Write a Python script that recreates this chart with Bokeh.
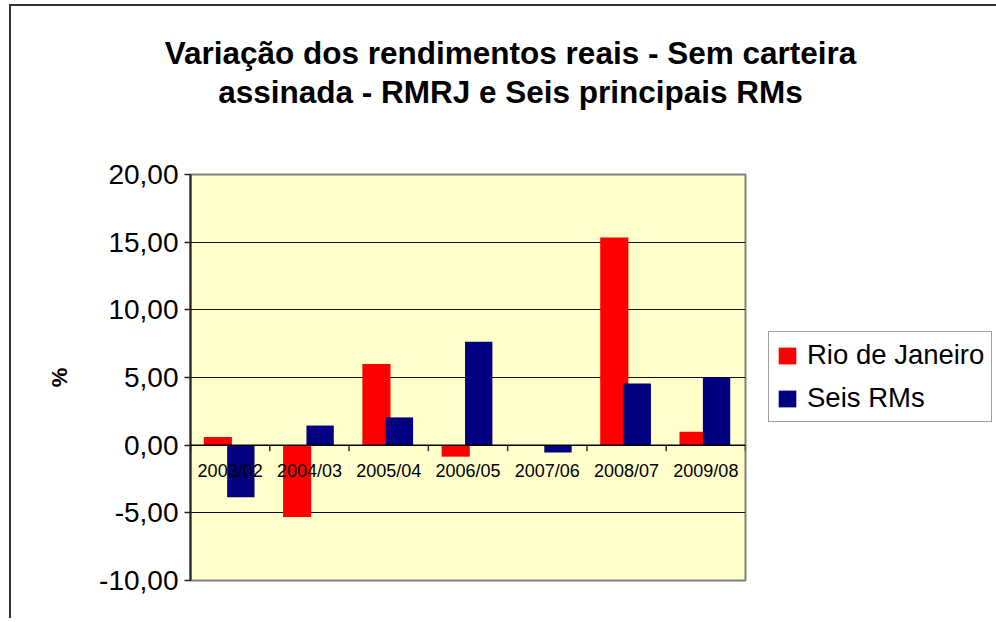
from bokeh.plotting import figure
from bokeh.models import (Range1d, FactorRange, FixedTicker, Span, Label, Legend,
                          LegendItem, ColumnDataSource)
from bokeh.transform import dodge
from bokeh.core.properties import value
from bokeh.embed import file_html
from bokeh.resources import INLINE

# ---------------- data ----------------
categories = ["2003/02", "2004/03", "2005/04", "2006/05", "2007/06", "2008/07", "2009/08"]
rio_de_janeiro = [0.6, -5.3, 6.0, -0.85, 0.0, 15.35, 1.0]
seis_rms = [-3.85, 1.45, 2.05, 7.65, -0.55, 4.55, 5.0]
y_ticks = [-10, -5, 0, 5, 10, 15, 20]
series_names = ["Rio de Janeiro", "Seis RMs"]
title_lines = ["Variação dos rendimentos reais - Sem carteira",
               "assinada - RMRJ e Seis principais RMs"]
y_label = "%"

FONT = "Liberation Sans"
Y0, Y1 = -10, 20
FRAME_W, FRAME_H = 555, 406
px_per_unit = FRAME_H / (Y1 - Y0)
px_per_cat = FRAME_W / len(categories)

p = figure(x_range=FactorRange(*categories, range_padding=0),
           y_range=Range1d(Y0, Y1),
           frame_width=FRAME_W, frame_height=FRAME_H,
           min_border_left=179, min_border_right=251,
           min_border_top=168, min_border_bottom=38,
           output_backend="svg", toolbar_location=None,
           background_fill_color="#FFFFCC", border_fill_color="white",
           outline_line_color="#808080", outline_line_width=2)

src = ColumnDataSource(dict(cat=categories, rio=rio_de_janeiro, seis=seis_rms))

# grid
p.xgrid.visible = False
p.ygrid.ticker = FixedTicker(ticks=y_ticks)
p.ygrid.grid_line_color = "#111111"
p.ygrid.grid_line_width = 1

r1 = p.vbar(x=dodge("cat", -0.155, range=p.x_range), top="rio", bottom=0, width=0.355,
            source=src, fill_color="#FF0000", line_color=None)
r2 = p.vbar(x=dodge("cat", 0.135, range=p.x_range), top="seis", bottom=0, width=0.345,
            source=src, fill_color="#000080", line_color=None)

# zero axis line
p.add_layout(Span(location=0, dimension="width", line_color="black", line_width=1.5))

# category boundary ticks on zero line
tick_len = 6 / px_per_unit
bounds = list(range(len(categories) + 1))
p.segment(x0=bounds, x1=bounds, y0=[0] * len(bounds), y1=[-tick_len] * len(bounds),
          line_color="#333333", line_width=1.5)

# category labels under the zero line
p.text(x=categories, y=[0] * len(categories), text=categories,
       text_font=value(FONT), text_font_size="18px", text_color="black",
       text_align="center", text_baseline="top", y_offset=16)

# axes
p.xaxis.visible = False
yax = p.yaxis[0]
yax.ticker = FixedTicker(ticks=y_ticks)
yax.major_label_overrides = {t: f"{t:.2f}".replace(".", ",") for t in y_ticks}
yax.major_label_text_font = FONT
yax.major_label_text_font_size = "28px"
yax.major_label_text_color = "black"
yax.major_label_standoff = 6
yax.major_tick_out = 6
yax.major_tick_in = 0
yax.minor_tick_line_color = None
yax.axis_line_color = "#222222"
yax.axis_line_width = 2
yax.major_tick_line_color = "#222222"
yax.major_tick_line_width = 1.5
yax.axis_label = y_label
yax.axis_label_text_font = FONT
yax.axis_label_text_font_style = "bold"
yax.axis_label_text_font_size = "22px"
yax.axis_label_text_color = "black"
yax.axis_label_standoff = 24

# title: two centred lines placed in the top border area
title_cx = (510 - 190) / px_per_cat
title_baselines = [20 + (174 - 52) / px_per_unit, 20 + (174 - 91) / px_per_unit]
for line, ty in zip(title_lines, title_baselines):
    p.add_layout(Label(x=title_cx, y=ty, text=line, text_font=FONT,
                       text_font_size="31.5px", text_font_style="bold",
                       text_color="black", text_align="center",
                       text_baseline="alphabetic"), "above")

# legend in right panel
legend = Legend(items=[LegendItem(label=series_names[0], renderers=[r1]),
                       LegendItem(label=series_names[1], renderers=[r2])],
                location=(23, 158), label_text_font=FONT, label_text_font_size="27.5px",
                label_text_color="black", glyph_width=22, glyph_height=21,
                label_height=21, spacing=11, padding=7, margin=0,
                label_standoff=9, border_line_color="#404040", border_line_width=1.5,
                background_fill_color="white", background_fill_alpha=1)
p.add_layout(legend, "right")

p.styles = {"border-top": "2px solid #333333", "border-left": "2px solid #333333",
            "margin-left": "9px", "margin-top": "4px"}

open("out.html", "w").write(file_html(p, INLINE))
